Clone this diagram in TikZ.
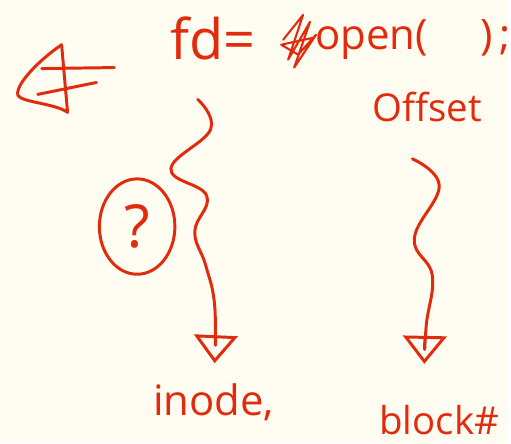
\documentclass[tikz,border=0pt]{standalone}
\usepackage{fontspec}
\setmainfont{Open Sans}
\usetikzlibrary{calc,positioning,arrows.meta,shapes.geometric}
\definecolor{ink}{RGB}{226,42,12}
\definecolor{paper}{RGB}{255,253,241}

\begin{document}
\begin{tikzpicture}[x=0.02cm,y=-0.02cm,line width=1.7pt,line cap=round,line join=round,
  hand/.style={text=ink,inner sep=0pt,font=\fontsize{24}{24}\selectfont},
  wiggle/.style={draw=ink,-{Triangle[open,width=25pt,length=16pt]}}]
  \fill[paper] (0,0) rectangle (511,446);

  % sign on the left
  \draw[ink] (62,45) .. controls (40,60) and (15,85) .. (18,96) .. controls (22,103) and (55,104) .. (68,113);
  \draw[ink] (62,45) -- (68,113);
  \draw[ink] (42,69) -- (115,68);
  \draw[ink] (38,95) -- (97,83);

  % the call
  \node[hand,font=\fontsize{32}{32}\selectfont,anchor=base west] (fd) at (170,60) {fd=};
  \draw[ink,line width=1.2pt] (285,40) -- (305,15) -- (290,60) -- (312,22) -- (296,68) -- (318,35) -- (300,55) -- (283,45) -- (315,38);
  \node[hand,anchor=base west] (call) at (316,50) {open(\hspace{30pt})\hspace{4pt};};
  \node[hand,font=\fontsize{22}{22}\selectfont,anchor=base] (offset) at (430,122) {Offset};

  \node[hand,draw=ink,ellipse,minimum width=1.52cm,minimum height=1.92cm,
    font=\fontsize{34}{34}\selectfont] (ask) at (138,228) {?};

  \node[hand,anchor=base] (inode) at (215,418) {inode,};
  \node[hand,font=\fontsize{22}{22}\selectfont,anchor=base] (block) at (442,437) {block\#};

  \draw[wiggle] plot[smooth,tension=0.7] coordinates {($(fd.south west)+(29,38)$)
    (212,130) (172,170) (208,197) (196,233) (207,267) (216,307) ($(inode.north)+(1,-19)$)};
  \draw[wiggle] plot[smooth,tension=0.7] coordinates {($(offset.south)+(-15,36)$)
    (442,187) (417,240) (435,277) (429,327) ($(block.north)+(-15,-40)$)};
\end{tikzpicture}
\end{document}
